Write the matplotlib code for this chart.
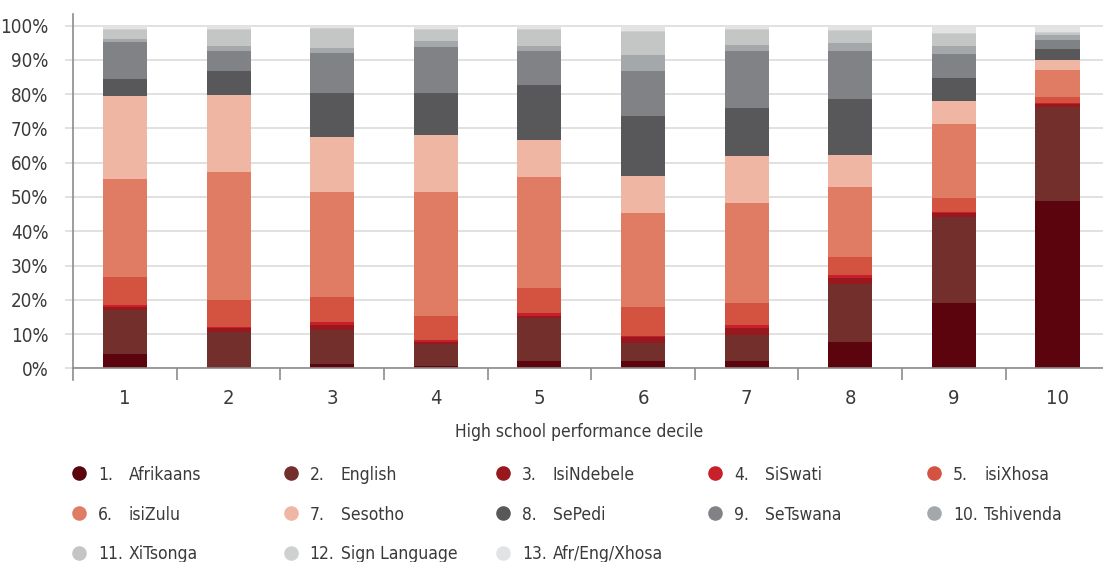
import matplotlib
matplotlib.use("Agg")
import matplotlib.pyplot as plt
from matplotlib.lines import Line2D
from matplotlib.ticker import PercentFormatter

plt.rcParams["font.family"] = ["DejaVu Sans"]
plt.rcParams["font.stretch"] = "condensed"

# Home-language share (%) by high school performance decile
deciles = ["1", "2", "3", "4", "5", "6", "7", "8", "9", "10"]
languages = ["Afrikaans", "English", "IsiNdebele", "SiSwati", "isiXhosa",
             "isiZulu", "Sesotho", "SePedi", "SeTswana", "Tshivenda",
             "XiTsonga", "Sign Language", "Afr/Eng/Xhosa"]

afrikaans     = [4.1, 0.3, 1.2, 0.6, 2.2, 2.1, 2.1, 7.8, 19.0, 48.9]
english       = [12.9, 10.4, 10.1, 6.4, 12.5, 5.4, 7.5, 16.9, 25.2, 27.5]
isindebele    = [0.8, 1.1, 1.3, 0.8, 0.7, 1.5, 2.3, 1.6, 1.2, 0.6]
siswati       = [0.6, 0.3, 0.8, 0.6, 0.6, 0.4, 0.6, 0.9, 0.1, 0.3]
isixhosa      = [8.2, 7.8, 7.3, 6.8, 7.4, 8.4, 6.5, 5.3, 4.3, 1.8]
isizulu       = [28.7, 37.5, 30.8, 36.3, 32.5, 27.6, 29.3, 20.5, 21.4, 7.9]
sesotho       = [24.1, 22.3, 16.1, 16.7, 10.6, 10.8, 13.8, 9.4, 6.7, 2.9]
sepedi        = [5.0, 7.0, 12.9, 12.3, 16.1, 17.3, 13.8, 16.1, 6.8, 3.3]
setswana      = [10.9, 5.9, 11.6, 13.2, 10.0, 13.2, 16.7, 14.1, 7.0, 2.6]
tshivenda     = [0.8, 1.4, 1.3, 1.8, 1.4, 4.7, 1.7, 2.3, 2.3, 1.5]
xitsonga      = [2.7, 4.8, 5.7, 3.3, 4.8, 6.8, 4.5, 3.6, 3.6, 0.6]
sign_language = [0.2, 0.2, 0.2, 0.2, 0.2, 0.2, 0.2, 0.2, 0.2, 0.2]
afr_eng_xhosa = [1.0, 1.0, 0.7, 1.0, 1.0, 1.6, 1.0, 1.3, 2.2, 1.9]

series = [afrikaans, english, isindebele, siswati, isixhosa, isizulu, sesotho,
          sepedi, setswana, tshivenda, xitsonga, sign_language, afr_eng_xhosa]

colors = ["#5c040e", "#722f2b", "#98181e", "#c8202a", "#d45340", "#df7c63",
          "#eeb6a3", "#58585a", "#818285", "#a5a8aa", "#c4c6c6", "#cfd0d0",
          "#e2e3e4"]

W, H = 1103, 562
fig = plt.figure(figsize=(W / 100, H / 100), dpi=100)

# axes in pixel terms: x 73..1109, y 0% at 368.3, 100% at 25.7
x0, x1 = 73.1, 1109.3
y0, y100 = 368.3, 25.7
ymax = 103.5
ax_h = (y0 - y100) * ymax / 100
ax = fig.add_axes([x0 / W, (H - y0) / H, (x1 - x0) / W, ax_h / H])

text_col = "#3a3a3a"
axis_col = "#8c8c8c"
grid_col = "#d9d9d9"

xpos = list(range(1, len(deciles) + 1))
bottom = [0.0] * len(deciles)
for vals, col, name in zip(series, colors, languages):
    ax.bar(xpos, vals, width=0.425, bottom=bottom, color=col,
           linewidth=0, label=name, zorder=3)
    bottom = [b + v for b, v in zip(bottom, vals)]

ax.set_xlim(0.5, len(deciles) + 0.5)
ax.set_ylim(0, ymax)

# y axis
ax.set_yticks(range(0, 101, 10))
ax.yaxis.set_major_formatter(PercentFormatter(decimals=0))
ax.tick_params(axis="y", length=5.8, width=1.1, color=grid_col,
               labelsize=13.5, labelcolor=text_col, pad=12)
ax.grid(axis="y", color=grid_col, linewidth=1.1, zorder=0)
ax.set_axisbelow(True)

# x axis: labels at bar centres, tick marks between bars
ax.set_xticks(xpos)
ax.set_xticklabels(deciles)
ax.set_xticks([p + 0.5 for p in xpos[:-1]], minor=True)
ax.tick_params(axis="x", which="major", length=0, labelsize=14.5,
               labelcolor=text_col, pad=15)
ax.tick_params(axis="x", which="minor", length=8.6, width=1.2,
               color=axis_col, direction="out")

for side in ["top", "right", "left"]:
    ax.spines[side].set_visible(False)
ax.spines["bottom"].set_color(axis_col)
ax.spines["bottom"].set_linewidth(1.2)
ax.spines["bottom"].set_zorder(4)

# left axis line running below the baseline
ax.plot([0, 0], [-3.5, ymax], transform=ax.get_yaxis_transform(),
        color=axis_col, linewidth=1.2, clip_on=False, zorder=5)

fig.text(579.5 / W, 1 - 432 / H, "High school performance decile",
         ha="center", va="center", fontsize=12.5, color=text_col)

# legend laid out in five columns
col_x = [79, 290.7, 503, 715, 934]
row_y = [473, 513, 552.7]
for i, (name, col) in enumerate(zip(languages, colors)):
    r, c = divmod(i, 5)
    mx, my = col_x[c], row_y[r]
    fig.add_artist(Line2D([mx / W], [1 - my / H], marker="o", markersize=10.5,
                          color=col, markeredgewidth=0, linestyle="none",
                          transform=fig.transFigure))
    fig.text((mx + 19) / W, 1 - (my + 6.5) / H, f"{i + 1}.",
             ha="left", va="baseline", fontsize=12.5, color=text_col)
    fig.text((mx + 50) / W, 1 - (my + 6.5) / H, name,
             ha="left", va="baseline", fontsize=12.5, color=text_col)

fig.savefig("out.png", dpi=100)
